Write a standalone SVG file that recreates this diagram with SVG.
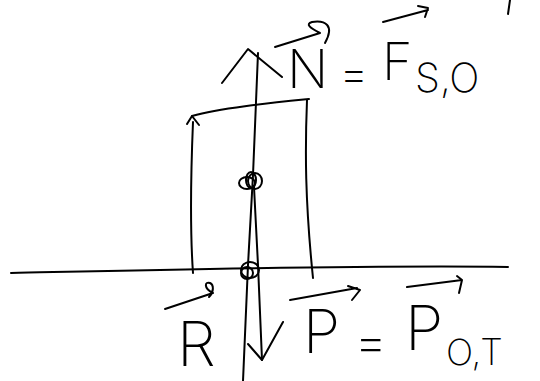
<svg xmlns="http://www.w3.org/2000/svg" width="540" height="381" viewBox="0 0 540 381">
<style>
.s{fill:none;stroke:#000;stroke-width:2;stroke-linecap:round;stroke-linejoin:round}
.t{font-family:Inter,"Open Sans","Liberation Sans",sans-serif;font-weight:200;fill:#000}
</style>
<rect width="540" height="381" fill="#fff"/>
<g id="ground">
<path class="s" d="M11,273 C150,270 350,265 508,267"/>
</g>
<g id="object">
<path class="s" d="M192,116 C220,108 270,103 309,99"/>
<path class="s" d="M193,122 C191,170 190,230 193,273"/>
<path class="s" d="M307,100 C305,150 305,200 313,278"/>
<path class="s" stroke="#777" stroke-width="1.2" d="M187,124 L192,116 L199,125"/>
<ellipse class="s" cx="247" cy="183" rx="8" ry="6"/>
<ellipse class="s" cx="255" cy="181" rx="7" ry="8"/>
<ellipse class="s" cx="251" cy="180" rx="5" ry="8"/>
<ellipse class="s" cx="250" cy="270" rx="9" ry="8"/>
<ellipse class="s" cx="247" cy="273" rx="6" ry="6"/>
</g>
<g id="connectors">
<path class="s" d="M258,53 L253,175 L248,265 L243,381"/>
<path class="s" d="M222,83 L248,49 L282,77"/>
<path class="s" d="M254,187 L258,265 L262,360"/>
<path class="s" d="M248,344 L262,360 L283,322"/>
</g>
<g id="label-N">
<text class="t" x="287" y="88" font-size="54">N</text>
<path class="s" d="M275,47 L320,33 C310,28 305,24 312,22 C325,20 335,25 325,43"/>
<text class="t" x="339" y="90" font-size="46">=</text>
<text class="t" x="382" y="80" font-size="52">F</text>
<path class="s" d="M383,22 L428,10 M418,6 L428,8 L425,17"/>
<text class="t" x="415" y="92" font-size="40">S,O</text>
<path class="s" d="M510,0 L508,14"/>
</g>
<g id="label-R">
<text class="t" x="177" y="366" font-size="62">R</text>
<path class="s" d="M165,309 L213,293 C203,288 205,281 210,283 C214,285 214,292 209,297"/>
</g>
<g id="label-P">
<text class="t" x="303" y="353" font-size="60">P</text>
<path class="s" d="M290,300 L357,288 M348,286 L360,290 L352,300"/>
<text class="t" x="354" y="360" font-size="52">=</text>
<text class="t" x="405" y="350" font-size="62">P</text>
<path class="s" d="M407,287 L462,280 M457,276 L462,280 L459,293"/>
<text class="t" x="446" y="365" font-size="36">O,T</text>
</g>
</svg>
